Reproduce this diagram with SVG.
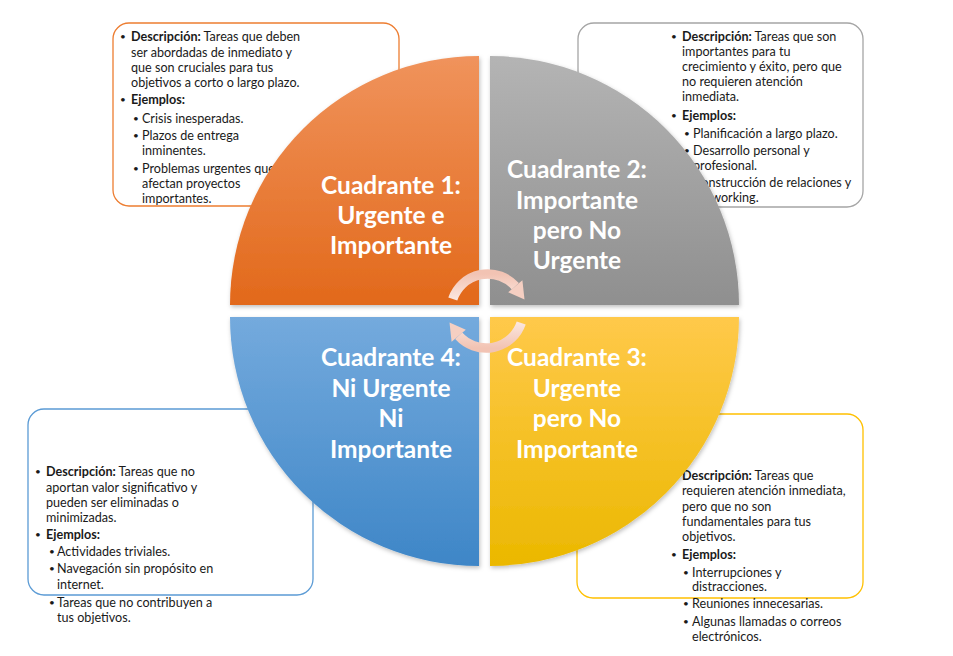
<svg xmlns="http://www.w3.org/2000/svg" width="953" height="656" viewBox="0 0 953 656">
<style>
.box{fill:#fff;stroke-width:1.3}
.t{font-family:Lato,"Liberation Sans",sans-serif;font-size:12.6px;fill:#1a1a1a}
.bu{font-size:10px}
.b{font-weight:bold}
.title{font-family:Lato,"Liberation Sans",sans-serif;font-size:24.5px;font-weight:bold;fill:#fff;text-anchor:middle}
.arc{fill:none;stroke:url(#ga);stroke-width:9.5}
.head{fill:#F5CFC2}
</style>
<defs>
<linearGradient id="g1" x1="0" y1="0" x2="0" y2="1"><stop offset="0" stop-color="#F0935C"/><stop offset="1" stop-color="#E2691B"/></linearGradient>
<linearGradient id="g2" x1="0" y1="0" x2="0" y2="1"><stop offset="0" stop-color="#B4B4B4"/><stop offset="1" stop-color="#8F8F8F"/></linearGradient>
<linearGradient id="g3" x1="0" y1="0" x2="0" y2="1"><stop offset="0" stop-color="#FFC94A"/><stop offset="1" stop-color="#EBB800"/></linearGradient>
<linearGradient id="g4" x1="0" y1="0" x2="0" y2="1"><stop offset="0" stop-color="#74AADD"/><stop offset="1" stop-color="#3E86C7"/></linearGradient>
<linearGradient id="ga" x1="0" y1="0" x2="0" y2="1"><stop offset="0" stop-color="#F2C3B3"/><stop offset="1" stop-color="#FBE6DE"/></linearGradient>
<filter id="sh" x="-10%" y="-10%" width="120%" height="120%"><feDropShadow dx="1" dy="2" stdDeviation="2" flood-color="#000" flood-opacity="0.25"/></filter>
</defs>

<g id="box-q1">
<rect class="box" x="113" y="23" width="286" height="183" rx="16" stroke="#ED7D31"/>
<text class="t"><tspan x="120" y="40" class="bu">•</tspan><tspan x="131" y="41" class="b">Descripción:</tspan><tspan> Tareas que deben</tspan>
<tspan x="131" y="57">ser abordadas de inmediato y</tspan>
<tspan x="131" y="72">que son cruciales para tus</tspan>
<tspan x="131" y="87">objetivos a corto o largo plazo.</tspan>
<tspan x="120" y="103" class="bu">•</tspan><tspan x="131" y="104" class="b">Ejemplos:</tspan>
<tspan x="133" y="122" class="bu">•</tspan><tspan x="142" y="123">Crisis inesperadas.</tspan>
<tspan x="133" y="139" class="bu">•</tspan><tspan x="142" y="140">Plazos de entrega</tspan>
<tspan x="142" y="155">inminentes.</tspan>
<tspan x="133" y="172" class="bu">•</tspan><tspan x="142" y="173">Problemas urgentes que</tspan>
<tspan x="142" y="188">afectan proyectos</tspan>
<tspan x="142" y="203">importantes.</tspan></text>
</g>

<g id="box-q2">
<rect class="box" x="578" y="23" width="285" height="184" rx="16" stroke="#A5A5A5"/>
<text class="t"><tspan x="671" y="40" class="bu">•</tspan><tspan x="682" y="41" class="b">Descripción:</tspan><tspan> Tareas que son</tspan>
<tspan x="682" y="56">importantes para tu</tspan>
<tspan x="682" y="71">crecimiento y éxito, pero que</tspan>
<tspan x="682" y="86">no requieren atención</tspan>
<tspan x="682" y="101">inmediata.</tspan>
<tspan x="671" y="119" class="bu">•</tspan><tspan x="682" y="120" class="b">Ejemplos:</tspan>
<tspan x="684" y="137" class="bu">•</tspan><tspan x="693" y="138">Planificación a largo plazo.</tspan>
<tspan x="684" y="154" class="bu">•</tspan><tspan x="693" y="155">Desarrollo personal y</tspan>
<tspan x="693" y="170">profesional.</tspan>
<tspan x="684" y="186" class="bu">•</tspan><tspan x="693" y="187">Construcción de relaciones y</tspan>
<tspan x="693" y="202">networking.</tspan></text>
</g>

<g id="box-q4">
<rect class="box" x="28" y="409" width="285" height="186" rx="16" stroke="#5B9BD5"/>
<text class="t"><tspan x="35" y="475" class="bu">•</tspan><tspan x="46" y="476" class="b">Descripción:</tspan><tspan> Tareas que no</tspan>
<tspan x="46" y="492">aportan valor significativo y</tspan>
<tspan x="46" y="507">pueden ser eliminadas o</tspan>
<tspan x="46" y="522">minimizadas.</tspan>
<tspan x="35" y="538" class="bu">•</tspan><tspan x="46" y="539" class="b">Ejemplos:</tspan>
<tspan x="49" y="555" class="bu">•</tspan><tspan x="57" y="556">Actividades triviales.</tspan>
<tspan x="49" y="572" class="bu">•</tspan><tspan x="57" y="573">Navegación sin propósito en</tspan>
<tspan x="57" y="589">internet.</tspan>
<tspan x="49" y="606" class="bu">•</tspan><tspan x="57" y="607">Tareas que no contribuyen a</tspan>
<tspan x="57" y="622">tus objetivos.</tspan></text>
</g>

<g id="box-q3">
<rect class="box" x="577" y="414" width="286" height="184" rx="16" stroke="#FFC000"/>
<text class="t"><tspan x="671" y="479" class="bu">•</tspan><tspan x="682" y="480" class="b">Descripción:</tspan><tspan> Tareas que</tspan>
<tspan x="682" y="495">requieren atención inmediata,</tspan>
<tspan x="682" y="511">pero que no son</tspan>
<tspan x="682" y="526">fundamentales para tus</tspan>
<tspan x="682" y="541">objetivos.</tspan>
<tspan x="671" y="558" class="bu">•</tspan><tspan x="682" y="559" class="b">Ejemplos:</tspan>
<tspan x="683" y="576" class="bu">•</tspan><tspan x="692" y="577">Interrupciones y</tspan>
<tspan x="692" y="591">distracciones.</tspan>
<tspan x="683" y="607" class="bu">•</tspan><tspan x="692" y="608">Reuniones innecesarias.</tspan>
<tspan x="683" y="625" class="bu">•</tspan><tspan x="692" y="626">Algunas llamadas o correos</tspan>
<tspan x="692" y="641">electrónicos.</tspan></text>
</g>

<g id="q1">
<path d="M479,305 L230,305 A249,249 0 0 1 479,56 Z" fill="url(#g1)" filter="url(#sh)"/>
<text class="title"><tspan x="391" y="194">Cuadrante 1:</tspan><tspan x="391" y="224">Urgente e</tspan><tspan x="391" y="254">Importante</tspan></text>
</g>
<g id="q2">
<path d="M490,305 L490,56 A249,249 0 0 1 739,305 Z" fill="url(#g2)" filter="url(#sh)"/>
<text class="title"><tspan x="577" y="178">Cuadrante 2:</tspan><tspan x="577" y="209">Importante</tspan><tspan x="577" y="239">pero No</tspan><tspan x="577" y="269">Urgente</tspan></text>
</g>
<g id="q3">
<path d="M490,317 L739,317 A249,249 0 0 1 490,566 Z" fill="url(#g3)" filter="url(#sh)"/>
<text class="title"><tspan x="577" y="366">Cuadrante 3:</tspan><tspan x="577" y="397">Urgente</tspan><tspan x="577" y="427">pero No</tspan><tspan x="577" y="458">Importante</tspan></text>
</g>
<g id="q4">
<path d="M479,317 L479,566 A249,249 0 0 1 230,317 Z" fill="url(#g4)" filter="url(#sh)"/>
<text class="title"><tspan x="391" y="366">Cuadrante 4:</tspan><tspan x="391" y="397">Ni Urgente</tspan><tspan x="391" y="427">Ni</tspan><tspan x="391" y="458">Importante</tspan></text>
</g>

<g id="connectors">
<g id="cycle-top">
<path class="arc" d="M452.8,299 A37,37 0 0 1 515.3,286.2"/>
<polygon class="head" points="522.4,280.2 508.2,292.2 524.5,299.5"/>
</g>
<g id="cycle-bottom" transform="rotate(180 487 311)">
<path class="arc" d="M452.8,299 A37,37 0 0 1 515.3,286.2"/>
<polygon class="head" points="522.4,280.2 508.2,292.2 524.5,299.5"/>
</g>
</g>
</svg>
